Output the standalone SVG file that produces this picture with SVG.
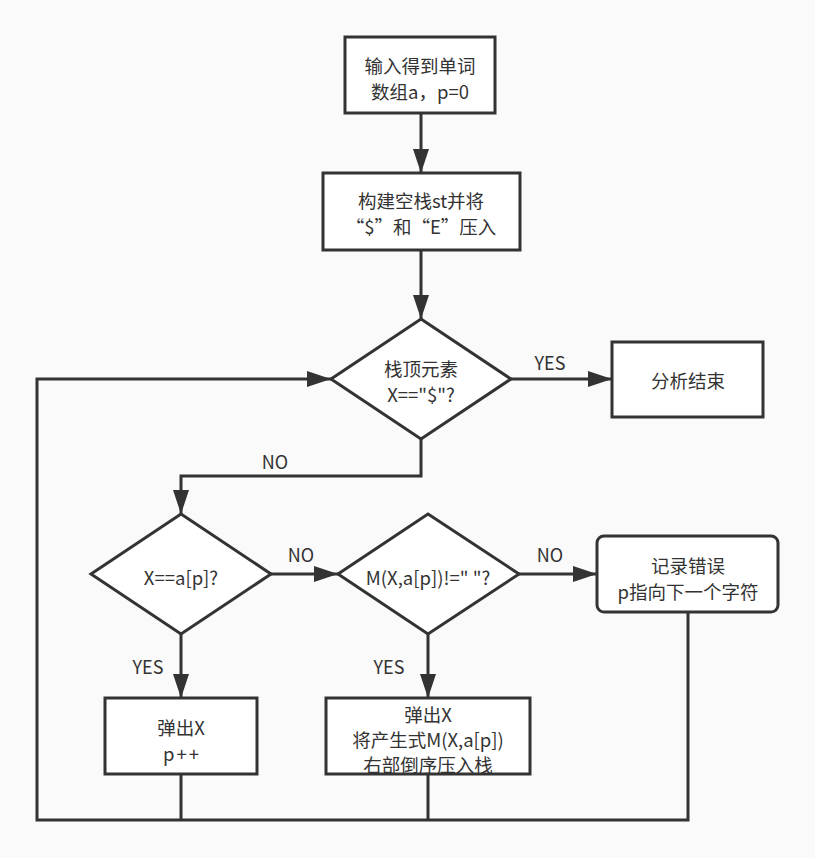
<svg xmlns="http://www.w3.org/2000/svg" width="815" height="858" viewBox="0 0 815 858">
<defs>
<marker id="arr" markerUnits="userSpaceOnUse" markerWidth="24" markerHeight="16" refX="24" refY="8" orient="auto">
<path d="M0,0 L24,8 L0,16 z" fill="#333"/>
</marker>
<style>
.n{fill:#fff;stroke:#333;stroke-width:3}
.t{font-family:"Noto Sans CJK SC","Noto Sans",sans-serif;font-size:18.5px;fill:#333;text-anchor:middle;dominant-baseline:central}
.c{fill:none;stroke:#333;stroke-width:3}
.l{font-family:"Noto Sans CJK SC","Noto Sans",sans-serif;font-size:18px;fill:#333;text-anchor:middle;dominant-baseline:central}
</style>
</defs>
<rect width="815" height="858" fill="#fafafa"/>
<g id="connectors">
<path class="c" d="M421,113 V173" marker-end="url(#arr)"/>
<path class="c" d="M421,250 V319" marker-end="url(#arr)"/>
<path class="c" d="M511,379 H612" marker-end="url(#arr)"/>
<path class="c" d="M421,439 V476 H181 V514" marker-end="url(#arr)"/>
<path class="c" d="M271,574 H338" marker-end="url(#arr)"/>
<path class="c" d="M519,574 H597" marker-end="url(#arr)"/>
<path class="c" d="M181,634 V698" marker-end="url(#arr)"/>
<path class="c" d="M428,634 V698" marker-end="url(#arr)"/>
<path class="c" d="M181,774 V820"/>
<path class="c" d="M428,774 V820"/>
<path class="c" d="M688,612 V820 H37 V379 H331" marker-end="url(#arr)"/>
<text class="l" x="550" y="362">YES</text>
<text class="l" x="275" y="461">NO</text>
<text class="l" x="301" y="554">NO</text>
<text class="l" x="550" y="554">NO</text>
<text class="l" x="148" y="666">YES</text>
<text class="l" x="389" y="666">YES</text>
</g>
<g id="n1">
<rect class="n" x="345" y="37" width="150" height="76"/>
<text class="t" x="420" y="65">输入得到单词</text>
<text class="t" x="420" y="91">数组a，p=0</text>
</g>
<g id="n2">
<rect class="n" x="323" y="173" width="197" height="77"/>
<text class="t" x="421" y="200">构建空栈st并将</text>
<text class="t" x="421" y="226">“$”和“E”压入</text>
</g>
<g id="d1">
<polygon class="n" points="421,319 511,379 421,439 331,379"/>
<text class="t" x="421" y="368">栈顶元素</text>
<text class="t" x="421" y="394">X=="$"?</text>
</g>
<g id="end">
<rect class="n" x="612" y="342" width="151" height="75"/>
<text class="t" x="688" y="380">分析结束</text>
</g>
<g id="d2">
<polygon class="n" points="181,514 271,574 181,634 91,574"/>
<text class="t" x="181" y="577">X==a[p]?</text>
</g>
<g id="d3">
<polygon class="n" points="428,514 519,574 428,634 338,574"/>
<text class="t" x="428" y="577">M(X,a[p])!=" "?</text>
</g>
<g id="err">
<rect class="n" x="597" y="536" width="181" height="76" rx="7"/>
<text class="t" x="688" y="565">记录错误</text>
<text class="t" x="688" y="591">p指向下一个字符</text>
</g>
<g id="popA">
<rect class="n" x="105" y="698" width="152" height="76"/>
<text class="t" x="181" y="727">弹出X</text>
<text class="t" x="182" y="753" letter-spacing="2">p++</text>
</g>
<g id="popB">
<rect class="n" x="326" y="698" width="204" height="76"/>
<text class="t" x="428" y="714">弹出X</text>
<text class="t" x="428" y="739">将产生式M(X,a[p])</text>
<text class="t" x="428" y="764">右部倒序压入栈</text>
</g>
</svg>
